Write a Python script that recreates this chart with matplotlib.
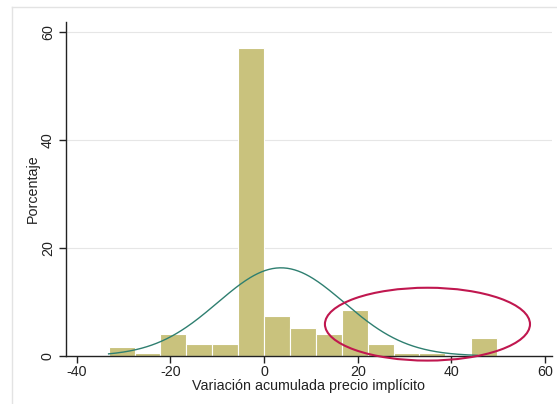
import numpy as np
import matplotlib
matplotlib.use("Agg")
import matplotlib.pyplot as plt
from matplotlib.patches import Ellipse
from matplotlib.lines import Line2D

# Data
bin_width = 5.53
bin_index = [-6, -5, -4, -3, -2, -1, 0, 1, 2, 3, 4, 5, 6, 7, 8]
percent = [1.6, 0.6, 4.0, 2.2, 2.2, 57.0, 7.4, 5.1, 4.0, 8.5, 2.3, 0.6, 0.6, 0.0, 3.3]
normal_mean = 3.6
normal_sd = 13.5
data_min, data_max = -33.2, 45.5
x_ticks = [-40, -20, 0, 20, 40, 60]
y_ticks = [0, 20, 40, 60]
x_label = "Variación acumulada precio implícito"
y_label = "Porcentaje"

plt.rcParams['font.family'] = ['Liberation Sans', 'DejaVu Sans']
plt.rcParams['axes.unicode_minus'] = False

fig = plt.figure(figsize=(5.57, 4.04), dpi=100)
ax = fig.add_axes([66/557, 1 - 356/404, (552-66)/557, (356-22)/404])

bar_color = "#c9c27d"
left_edges = [k * bin_width for k in bin_index]
ax.bar(left_edges, percent, width=bin_width, align='edge',
       color=bar_color, edgecolor='white', linewidth=0.8, zorder=2)

xs = np.linspace(data_min, data_max, 300)
ys = 100 * bin_width / (normal_sd * np.sqrt(2 * np.pi)) * np.exp(-0.5 * ((xs - normal_mean) / normal_sd) ** 2)
ax.plot(xs, ys, color="#2e7f70", lw=1.0, zorder=3)

ell = Ellipse((34.9, 5.9), 43.8, 13.5, fill=False, edgecolor="#c0174f",
              lw=1.5, clip_on=False, zorder=4)
ax.add_patch(ell)

ax.set_xlim(-42.3, 61.5)
ax.set_ylim(0, 61.9)
ax.set_xticks(x_ticks)
ax.set_yticks(y_ticks)
ax.set_yticklabels([str(t) for t in y_ticks], rotation=90, va='center')
for t in y_ticks[1:]:
    ax.axhline(t, color="#e6e6e6", lw=0.8, zorder=0)

for s in ['top', 'right']:
    ax.spines[s].set_visible(False)
for s in ['left', 'bottom']:
    ax.spines[s].set_color('#222222')
    ax.spines[s].set_linewidth(1.0)
ax.tick_params(axis='both', direction='out', length=5, width=1.0, colors='#222222',
               labelsize=10.3, labelcolor='#222222')
ax.tick_params(axis='x', pad=1.5)
ax.tick_params(axis='y', pad=3)

ax.set_xlabel(x_label, fontsize=10.3, color='#222222', labelpad=0)
ax.set_ylabel(y_label, fontsize=10.3, color='#222222', labelpad=1)

# outer light frame
fig.add_artist(Line2D([12/557, 1], [1 - 7/404, 1 - 7/404], color="#e3e3e3", lw=1.0,
                      transform=fig.transFigure))
fig.add_artist(Line2D([12/557, 12/557], [0, 1 - 7/404], color="#e3e3e3", lw=1.0,
                      transform=fig.transFigure))

fig.savefig("out.png", dpi=100)
